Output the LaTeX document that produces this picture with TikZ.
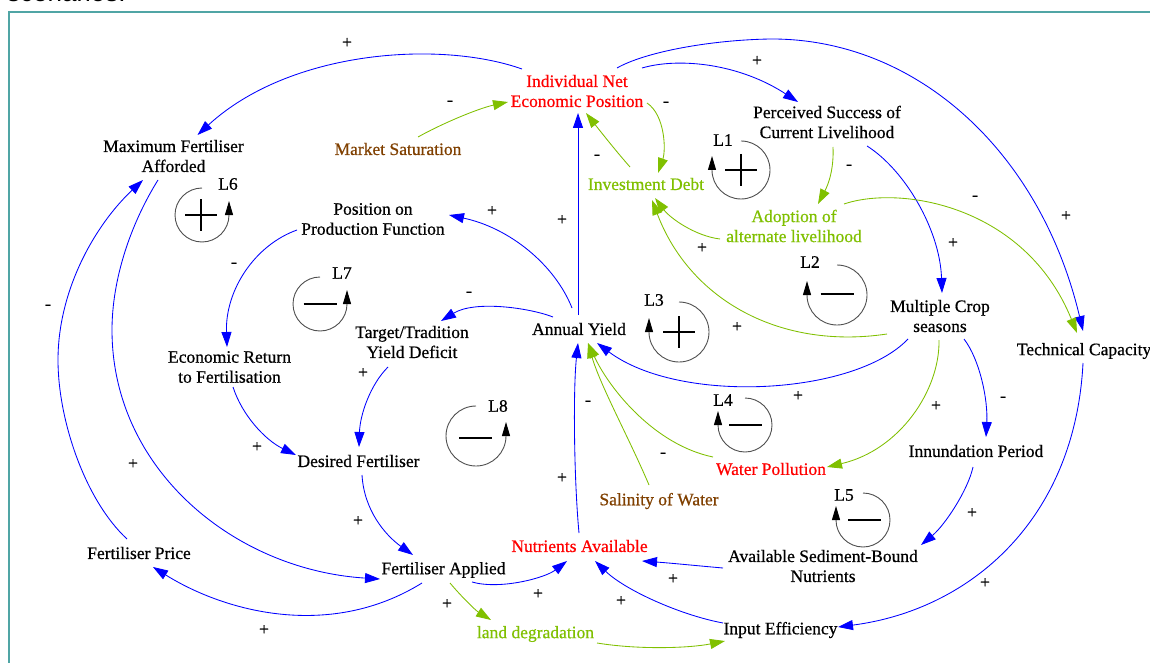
\documentclass[tikz,border=0pt]{standalone}
\usepackage{fontspec}
\setmainfont{Liberation Serif}
\newfontfamily\vfont{Liberation Serif}[FakeBold=0.6]
\newfontfamily\sansf{Liberation Sans}
\usetikzlibrary{arrows.meta,calc}
\definecolor{cblue}{RGB}{0,0,255}
\definecolor{cgreen}{RGB}{128,192,0}
\definecolor{cred}{RGB}{255,0,0}
\definecolor{cbrown}{RGB}{128,64,0}
\definecolor{cframe}{RGB}{80,165,165}
\definecolor{cloop}{RGB}{80,80,80}
\newcommand\dfont{\vfont\fontsize{17.5}{20}\selectfont}
\tikzset{
  var/.style={font=\dfont, align=center, inner sep=0pt},
  vblack/.style={var, text=black},
  vred/.style={var, text=cred},
  vgreen/.style={var, text=cgreen},
  vbrown/.style={var, text=cbrown},
  link/.style={line width=0.85pt, -{Triangle[length=15pt,width=10pt]}},
  bl/.style={link, draw=cblue},
  gr/.style={link, draw=cgreen},
  sgn/.style={font=\dfont, inner sep=0pt, text=black},
  loopc/.style={draw=cloop, line width=0.9pt, -{Triangle[length=14pt,width=8pt,color=black]}},
  loopmark/.style={line width=1.8pt, draw=black},
  looplbl/.style={font=\dfont, inner sep=0pt, text=black},
}
\newcommand\lpcw[3]{\draw[loopc] (#1,#2) ++(90:#3pt) arc[start angle=90, end angle=-180, radius=#3pt] -- ++(0pt,14pt);}
\newcommand\lpccw[3]{\draw[loopc] (#1,#2) ++(90:#3pt) arc[start angle=90, end angle=360, radius=#3pt] -- ++(0pt,14pt);}
\newcommand\lpplus[2]{\draw[loopmark] (#1-16,#2) -- (#1+16,#2) (#1,#2-16) -- (#1,#2+16);}
\newcommand\lpminus[2]{\draw[loopmark] (#1-16.5,#2) -- (#1+16.5,#2);}
\begin{document}
\begin{tikzpicture}[x=1pt,y=-1pt]
\useasboundingbox (0,0) rectangle (1150,663);
\fill[white] (0,0) rectangle (1150,663);
\node[anchor=base west, font=\sansf\fontsize{26}{30}\selectfont, inner sep=0pt] (title) at (7,2) {scenarios.};
\draw[cframe, line width=2pt] (9,670) -- (9,12.5) -- (1160,12.5);

% variables
\node[vblack] (maxf) at (173.5,156) {Maximum Fertiliser\\Afforded};
\node[vbrown] (mkt) at (398,149) {Market Saturation};
\node[vred] (ine) at (577,91) {Individual Net\\Economic Position};
\node[vgreen] (inv) at (646,184) {Investment Debt};
\node[vblack] (per) at (827,122) {Perceived Success of\\Current Livelihood};
\node[vgreen] (ado) at (794,226) {Adoption of\\alternate livelihood};
\node[vblack] (pos) at (373,219) {Position on\\Production Function};
\node[vblack] (eco) at (229.5,367) {Economic Return\\to Fertilisation};
\node[vblack] (tgt) at (412,342) {Target/Tradition\\Yield Deficit};
\node[vblack] (ay) at (579,329) {Annual Yield};
\node[vblack] (mcs) at (940,316) {Multiple Crop\\seasons};
\node[vblack] (tec) at (1084,351) {Technical Capacity};
\node[vblack] (des) at (358.5,461) {Desired Fertiliser};
\node[vred] (wp) at (771,469) {Water Pollution};
\node[vblack] (inn) at (976,451) {Innundation Period};
\node[vbrown] (sal) at (659,501) {Salinity of Water};
\node[vblack] (fp) at (139,553) {Fertiliser Price};
\node[vblack] (fa) at (443.5,570) {Fertiliser Applied};
\node[vred] (na) at (579.5,546) {Nutrients Available};
\node[vblack] (asb) at (823,566) {Available Sediment-Bound\\Nutrients};
\node[vgreen] (ld) at (535.5,634) {land degradation};
\node[vblack] (ie) at (780.5,630) {Input Efficiency};

% connectors
\draw[bl] ($(ine)+(-55,-22)$) .. controls (440,40) and (290,50) .. ($(maxf)+(24,-21)$);
\draw[bl] ($(ine)+(65,-23)$) .. controls (680,57) and (740,64) .. ($(per)+(-29,-20)$);
\draw[bl] ($(ine)+(40,-23)$) .. controls (645,52) and (710,40) .. (770,39) .. controls (915,38) and (1040,150) .. ($(tec)+(-1,-20)$);
\draw[bl] ($(tec)+(-1,12)$) .. controls (1075,520) and (970,610) .. ($(ie)+(57.5,-3)$);
\draw[gr] ($(per)+(6,25)$) .. controls (834,170) and (828,185) .. ($(ado)+(24,-22)$);
\draw[bl] ($(per)+(40,24)$) .. controls (905,170) and (940,230) .. ($(mcs)+(2,-23)$);
\draw[gr] ($(ado)+(50,-22)$) .. controls (900,185) and (1025,205) .. ($(tec)+(-7,-18)$);
\draw[gr] ($(ado)+(-74,13)$) .. controls (695,236) and (670,218) .. ($(inv)+(9,14)$);
\draw[gr] ($(mcs)+(-53,18)$) .. controls (780,350) and (690,300) .. ($(inv)+(6,16)$);
\draw[gr] ($(inv)+(-16,-17)$) .. controls (615,150) and (597,127) .. ($(ine)+(9,22)$);
\draw[gr] ($(ine)+(70,12)$) .. controls (665,115) and (666,150) .. ($(inv)+(12,-11)$);
\draw[gr] ($(mkt)+(20,-12)$) .. controls (445,122) and (480,108) .. ($(ine)+(-69,11)$);
\draw[bl] ($(ay)+(-1,-14)$) -- ($(ine)+(1,22)$);
\draw[bl] ($(ay)+(-7,-21)$) .. controls (555,265) and (510,228) .. ($(pos)+(76,-4)$);
\draw[bl] ($(ay)+(-26,-12)$) .. controls (530,308) and (475,300) .. ($(tgt)+(29,-21)$);
\draw[bl] ($(pos)+(-76,11)$) .. controls (255,245) and (225,290) .. ($(eco)+(-2.5,-20)$);
\draw[bl] ($(eco)+(3.5,20)$) .. controls (242,415) and (265,440) .. ($(des)+(-62.5,-6)$);
\draw[bl] ($(tgt)+(-24,25)$) .. controls (370,385) and (360,415) .. ($(des)+(0.5,-14)$);
\draw[bl] ($(des)+(3.5,14)$) .. controls (364,510) and (385,535) .. ($(fa)+(-30.5,-15)$);
\draw[bl] ($(maxf)+(-15.5,24)$) .. controls (130,225) and (112,280) .. (112,330) .. controls (112,470) and (235,570) .. ($(fa)+(-63.5,9)$);
\draw[bl] ($(fp)+(-12,-14)$) .. controls (85,500) and (58,420) .. (58,360) .. controls (58,290) and (95,225) .. ($(maxf)+(-30.5,24)$);
\draw[bl] ($(fa)+(-21.5,13)$) .. controls (330,640) and (225,612) .. ($(fp)+(14,14)$);
\draw[bl] ($(fa)+(28.5,12)$) .. controls (500,590) and (545,578) .. ($(na)+(-12.5,15)$);
\draw[gr] ($(fa)+(6.5,13)$) .. controls (460,595) and (475,610) .. ($(ld)+(-44.5,-14)$);
\draw[gr] ($(ld)+(61.5,9)$) .. controls (640,650) and (690,648) .. ($(ie)+(-55.5,11)$);
\draw[bl] ($(ie)+(-57.5,-7)$) .. controls (680,615) and (625,590) .. ($(na)+(15.5,15)$);
\draw[bl] ($(asb)+(-100,2)$) .. controls (700,566) and (670,563) .. ($(na)+(62.5,15)$);
\draw[bl] ($(inn)+(-3,16)$) .. controls (968,490) and (945,525) .. ($(asb)+(98,-21)$);
\draw[bl] ($(mcs)+(24,23)$) .. controls (980,360) and (988,400) .. ($(inn)+(10,-14)$);
\draw[gr] ($(mcs)+(-1,24)$) .. controls (940,390) and (900,450) .. ($(wp)+(56,-2)$);
\draw[bl] ($(mcs)+(-32,23)$) .. controls (855,395) and (680,405) .. ($(ay)+(18,14)$);
\draw[gr] ($(wp)+(-58,-12)$) .. controls (655,445) and (610,390) .. ($(ay)+(9,14)$);
\draw[gr] ($(sal)+(-10,-16)$) .. controls (630,440) and (600,385) .. ($(ay)+(9,14)$);
\draw[bl] ($(na)+(-0.5,-13)$) .. controls (574,480) and (573,390) .. ($(ay)+(-1,14)$);

% polarity signs
\node[sgn] (s1) at (347,43) {+};
\node[sgn] (s2) at (757,61) {+};
\node[sgn] (s3) at (1066,216) {+};
\node[sgn] (s4) at (985,583) {+};
\node[sgn] (s5) at (849,167) {-};
\node[sgn] (s6) at (953,243) {+};
\node[sgn] (s7) at (975,198) {-};
\node[sgn] (s8) at (702,248) {+};
\node[sgn] (s9) at (737,327) {+};
\node[sgn] (s10) at (597,157) {-};
\node[sgn] (s11) at (666,104) {-};
\node[sgn] (s12) at (450,103) {-};
\node[sgn] (s13) at (562,220) {+};
\node[sgn] (s14) at (492,211) {+};
\node[sgn] (s15) at (469,294) {-};
\node[sgn] (s16) at (234,265) {-};
\node[sgn] (s17) at (257,447) {+};
\node[sgn] (s18) at (363,373) {+};
\node[sgn] (s19) at (358,521) {+};
\node[sgn] (s20) at (133,464) {+};
\node[sgn] (s21) at (48,307) {-};
\node[sgn] (s22) at (264,630) {+};
\node[sgn] (s23) at (538,594) {+};
\node[sgn] (s24) at (447,604) {+};
\node[sgn] (s25) at (621,601) {+};
\node[sgn] (s26) at (673,579) {+};
\node[sgn] (s27) at (972,513) {+};
\node[sgn] (s28) at (1003,399) {-};
\node[sgn] (s29) at (936,406) {+};
\node[sgn] (s30) at (798,396) {+};
\node[sgn] (s31) at (663,455) {-};
\node[sgn] (s32) at (588,403) {-};
\node[sgn] (s33) at (562,478) {+};

% loop markers
\lpcw{741}{170}{29} \lpplus{741}{170}
\node[looplbl] (l1) at (723,140) {L1};
\lpcw{837}{295}{30} \lpminus{837}{294}
\node[looplbl] (l2) at (810,262) {L2};
\lpcw{679}{332}{30} \lpplus{679}{332}
\node[looplbl] (l3) at (654,300) {L3};
\lpcw{745}{425}{27} \lpminus{745.5}{425}
\node[looplbl] (l4) at (723,400) {L4};
\lpcw{863}{520}{27} \lpminus{864.5}{520}
\node[looplbl] (l5) at (844,495) {L5};
\lpccw{202}{215}{27} \lpplus{201}{215}
\node[looplbl] (l6) at (228,184) {L6};
\lpccw{320}{304}{27} \lpminus{320}{304}
\node[looplbl] (l7) at (342,273) {L7};
\lpccw{476}{436}{30} \lpminus{475.5}{438}
\node[looplbl] (l8) at (498,406) {L8};
\end{tikzpicture}
\end{document}
